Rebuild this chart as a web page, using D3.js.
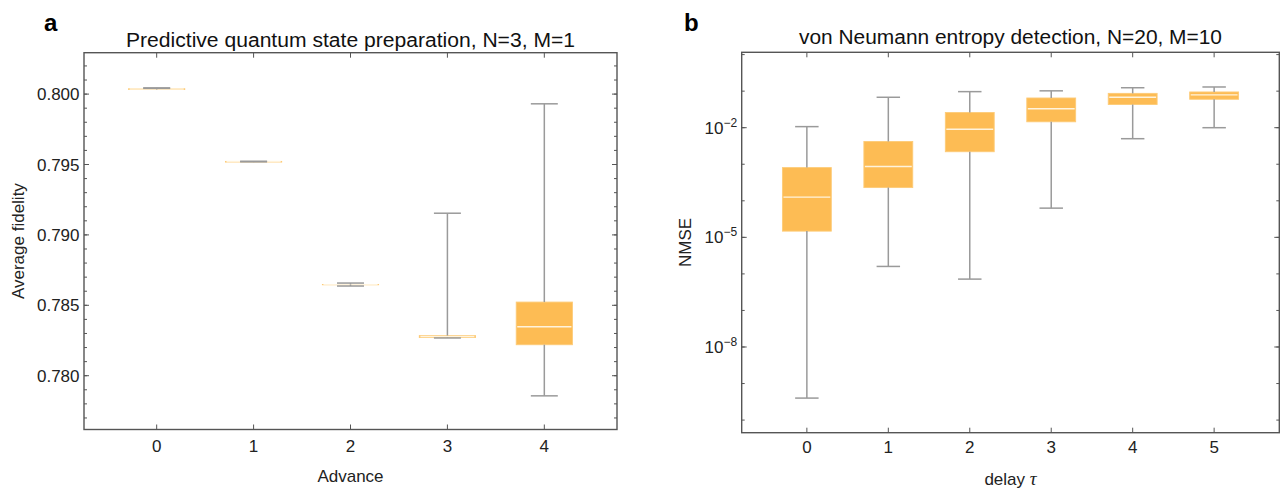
<!DOCTYPE html>
<html>
<head>
<meta charset="utf-8">
<script src="https://cdn.jsdelivr.net/npm/d3@7"></script>
<style>
  body { margin: 0; background: #fff; }
  svg { display: block; font-family: "Liberation Sans", Arial, sans-serif; }
</style>
</head>
<body>
<svg id="vis" width="1288" height="488"></svg>
<script>
// panel a: average fidelity vs advance
const advance = [0, 1, 2, 3, 4];
const fidLow  = [0.80041, 0.79519, 0.78637, 0.78268, 0.77857];
const fidQ1   = [0.80033, 0.79517, 0.78646, 0.78271, 0.78220];
const fidMed  = [0.80036, 0.79520, 0.78647, 0.78278, 0.78348];
const fidQ3   = [0.80038, 0.79522, 0.78648, 0.78285, 0.78523];
const fidHigh = [0.80044, 0.79523, 0.78658, 0.79154, 0.79931];
const fidTicks = [0.780, 0.785, 0.790, 0.795, 0.800];

// panel b: NMSE vs delay tau
const delay = [0, 1, 2, 3, 4, 5];
const nmseLow  = [4.0e-10, 1.6e-6, 7.2e-7, 6.3e-5, 5.0e-3, 1.0e-2];
const nmseQ1   = [1.48e-5, 2.3e-4, 2.2e-3, 1.45e-2, 4.3e-2, 6.0e-2];
const nmseMed  = [1.26e-4, 8.7e-4, 9.1e-3, 3.3e-2, 6.8e-2, 7.9e-2];
const nmseQ3   = [8.1e-4, 4.2e-3, 2.6e-2, 6.5e-2, 8.7e-2, 9.5e-2];
const nmseHigh = [1.07e-2, 6.8e-2, 9.7e-2, 0.102, 0.124, 0.130];
const nmseTickExp = [-8, -5, -2];

const svg = d3.select("#vis");
const boxFill = "#fdbc54";
const whiskerColor = "#9a9a9a";
const frameColor = "#555";

function drawPanel(p) {
  const g = svg.append("g");
  const [x0, x1] = p.x.range();
  const [y0, y1] = p.y.range(); // y0 bottom, y1 top

  // boxes
  p.cats.forEach((c, i) => {
    const bw = p.boxW, cw = p.boxW * 0.48;
    const xl = p.x(c - bw / 2), xr = p.x(c + bw / 2);
    const top = p.y(p.q3[i]), bot = p.y(p.q1[i]);
    g.append("rect")
      .attr("x", xl).attr("y", top)
      .attr("width", xr - xl).attr("height", Math.max(bot - top, 0.3))
      .attr("fill", boxFill)
      .attr("stroke", "#fdcb78").attr("stroke-width", 0.9);
    g.append("line")
      .attr("x1", xl + 1).attr("x2", xr - 1)
      .attr("y1", p.y(p.med[i])).attr("y2", p.y(p.med[i]))
      .attr("stroke", "#fff3dc").attr("stroke-width", 1.4);
    // whiskers
    const wg = g.append("g").attr("stroke", whiskerColor).attr("stroke-width", 1.5);
    wg.append("line").attr("x1", p.x(c)).attr("x2", p.x(c))
      .attr("y1", top).attr("y2", p.y(p.high[i]));
    wg.append("line").attr("x1", p.x(c)).attr("x2", p.x(c))
      .attr("y1", bot).attr("y2", p.y(p.low[i]));
    [p.low[i], p.high[i]].forEach(v => {
      wg.append("line")
        .attr("x1", p.x(c - cw / 2)).attr("x2", p.x(c + cw / 2))
        .attr("y1", p.y(v)).attr("y2", p.y(v));
    });
  });

  // frame
  g.append("rect")
    .attr("x", x0).attr("y", y1)
    .attr("width", x1 - x0).attr("height", y0 - y1)
    .attr("fill", "none").attr("stroke", frameColor).attr("stroke-width", 1.4);

  const tk = g.append("g").attr("stroke", frameColor).attr("stroke-width", 1);
  // x ticks, inward on bottom and top
  p.cats.forEach(c => {
    tk.append("line").attr("x1", p.x(c)).attr("x2", p.x(c)).attr("y1", y0).attr("y2", y0 - 5);
    tk.append("line").attr("x1", p.x(c)).attr("x2", p.x(c)).attr("y1", y1).attr("y2", y1 + 5);
  });
  // y ticks, inward on left and right
  p.minor.forEach(v => {
    const yy = p.y(v);
    tk.append("line").attr("x1", x0).attr("x2", x0 + 3).attr("y1", yy).attr("y2", yy);
    tk.append("line").attr("x1", x1).attr("x2", x1 - 3).attr("y1", yy).attr("y2", yy);
  });
  p.major.forEach(v => {
    const yy = p.y(v);
    tk.append("line").attr("x1", x0).attr("x2", x0 + 5).attr("y1", yy).attr("y2", yy);
    tk.append("line").attr("x1", x1).attr("x2", x1 - 5).attr("y1", yy).attr("y2", yy);
  });

  // tick labels
  g.selectAll(".xl").data(p.cats).enter().append("text")
    .attr("x", d => p.x(d)).attr("y", y0 + p.xLabelDy)
    .attr("text-anchor", "middle").attr("font-size", 17).attr("fill", "#222")
    .text(d => d);
  p.major.forEach(v => {
    const t = g.append("text")
      .attr("x", x0 - 4.5).attr("y", p.y(v) + 6)
      .attr("text-anchor", "end").attr("font-size", 17).attr("fill", "#222");
    p.fmt(t, v);
  });

  // titles and labels
  g.append("text")
    .attr("x", (x0 + x1) / 2).attr("y", p.titleY)
    .attr("text-anchor", "middle").attr("font-size", 20).attr("fill", "#111")
    .attr("textLength", p.titleLen).attr("lengthAdjust", "spacingAndGlyphs")
    .text(p.title);
  g.append("text")
    .attr("x", p.letterX).attr("y", 31)
    .attr("font-size", 24).attr("font-weight", "bold").attr("fill", "#000")
    .text(p.letter);
  const xlab = g.append("text")
    .attr("x", (x0 + x1) / 2).attr("y", p.xTitleY)
    .attr("text-anchor", "middle").attr("font-size", 17).attr("fill", "#222");
  p.xTitle(xlab);
  g.append("text")
    .attr("transform", `translate(${p.yTitleX}, ${(y0 + y1) / 2}) rotate(-90)`)
    .attr("text-anchor", "middle").attr("font-size", 17).attr("fill", "#222")
    .text(p.yTitle);
}

// panel a
const xa = d3.scaleLinear().domain([-0.75, 4.75]).range([84, 617]);
const ya = d3.scaleLinear().domain([0.77618, 0.80294]).range([429.5, 52.7]);
drawPanel({
  cats: advance, x: xa, y: ya, boxW: 0.58,
  low: fidLow, q1: fidQ1, med: fidMed, q3: fidQ3, high: fidHigh,
  major: fidTicks,
  minor: d3.range(0.777, 0.8025, 0.001),
  fmt: (t, v) => t.text(d3.format(".3f")(v)),
  xLabelDy: 22,
  title: "Predictive quantum state preparation, N=3, M=1", titleY: 47, titleLen: 449,
  letter: "a", letterX: 44,
  xTitle: t => t.text("Advance"), xTitleY: 482,
  yTitle: "Average fidelity", yTitleX: 24
});

// panel b
const xb = d3.scaleLinear().domain([-0.8, 5.8]).range([741.7, 1279.3]);
const yb = d3.scaleLog().domain([Math.pow(10, -10.345), Math.pow(10, 0.063)]).range([432.7, 52.3]);
drawPanel({
  cats: delay, x: xb, y: yb, boxW: 0.6,
  low: nmseLow, q1: nmseQ1, med: nmseMed, q3: nmseQ3, high: nmseHigh,
  major: nmseTickExp.map(e => Math.pow(10, e)),
  minor: d3.range(-10, 1).map(e => Math.pow(10, e)),
  fmt: (t, v) => {
    t.append("tspan").text("10");
    t.append("tspan").attr("font-size", 12).attr("dy", -7)
      .text("\u2212" + Math.abs(Math.round(Math.log10(v))));
  },
  xLabelDy: 20.5,
  title: "von Neumann entropy detection, N=20, M=10", titleY: 44, titleLen: 423,
  letter: "b", letterX: 684,
  xTitle: t => {
    t.append("tspan").text("delay ");
    t.append("tspan").attr("font-family", "Liberation Serif, serif")
      .attr("font-style", "italic").attr("font-size", 19).text("\u03c4");
  },
  xTitleY: 485,
  yTitle: "NMSE", yTitleX: 691
});
</script>
</body>
</html>
